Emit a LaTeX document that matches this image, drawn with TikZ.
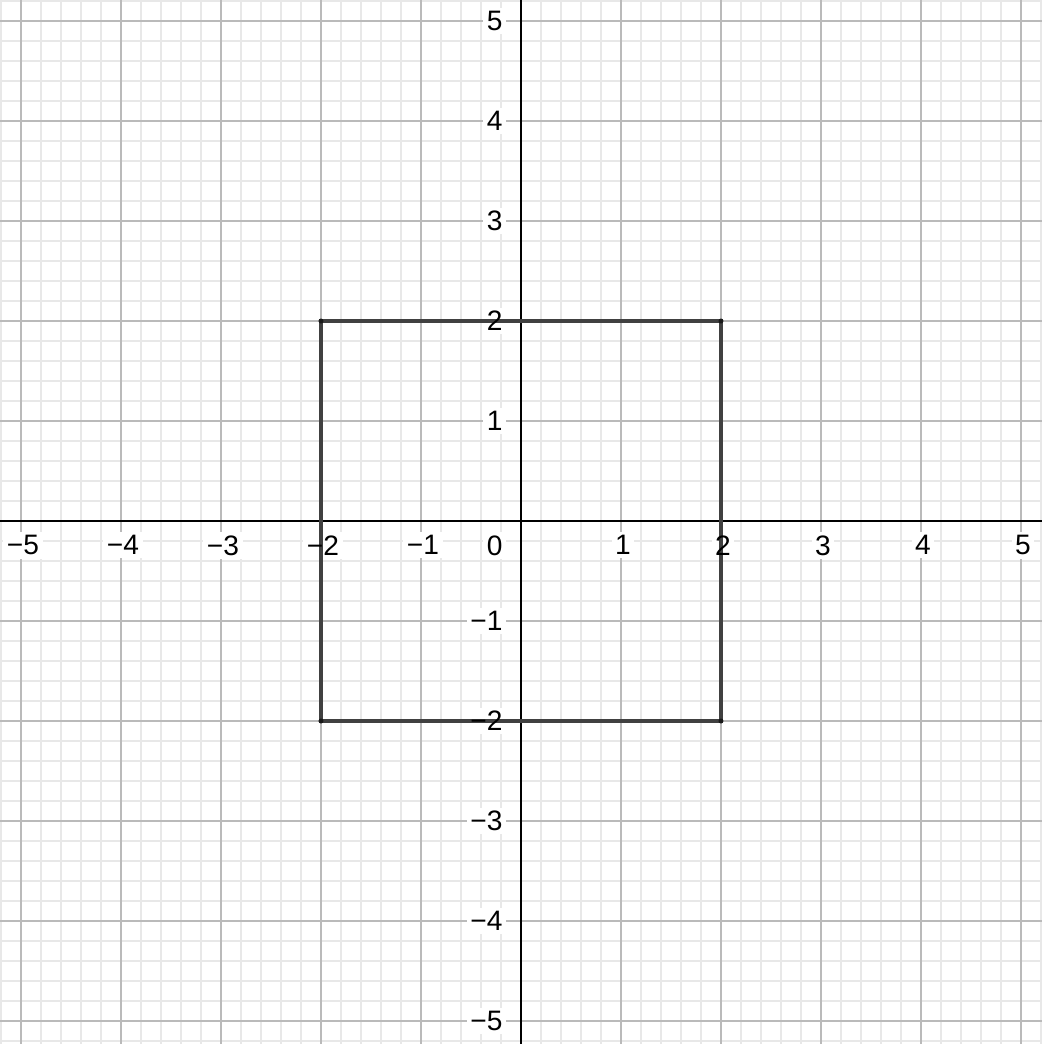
\documentclass[tikz,border=0pt]{standalone}
\usepackage{fontspec}
\setmainfont{Liberation Sans}
\usetikzlibrary{backgrounds}
\begin{document}
\begin{tikzpicture}[x=1cm,y=1cm,
  minorgrid/.style={draw=black!9,line width=0.4pt},
  majorgrid/.style={draw=black!27,line width=0.6pt},
  axisline/.style={draw=black,line width=0.75pt},
  sqline/.style={draw=black!75,line width=1.15pt},
  corner/.style={circle,fill=black!90,inner sep=0pt,minimum size=0.05cm},
  lab/.style={inner sep=0.8pt,font=\fontsize{8}{9}\selectfont}]
\useasboundingbox (-5.21,-5.23) rectangle (5.21,5.21);
\clip (-5.21,-5.23) rectangle (5.21,5.21);
% axes
\coordinate (xa) at (-5.3,0); \coordinate (xb) at (5.3,0);
\coordinate (ya) at (0,-5.3); \coordinate (yb) at (0,5.3);
\draw[axisline] (xa) -- (xb);
\draw[axisline] (ya) -- (yb);
% square
\coordinate (A) at (-2,2); \coordinate (B) at (2,2);
\coordinate (C) at (2,-2); \coordinate (D) at (-2,-2);
\draw[sqline] (A) -- (B) -- (C) -- (D) -- cycle;
\foreach \p in {A,B,C,D} \node[corner] at (\p) {};
% labels
\foreach \x/\t in {-5/−5,-4/−4,-3/−3,-2/−2,-1/−1,1/1,2/2,3/3,4/4,5/5}
  \node[lab,anchor=north] (xl\x) at (\x+0.02,-0.11) {\t};
\foreach \y/\t in {-5/−5,-4/−4,-3/−3,-2/−2,-1/−1,1/1,2/2,3/3,4/4,5/5}
  \node[lab,anchor=east] (yl\y) at (-0.15,\y) {\t};
\node[lab,anchor=north east] (o) at (-0.15,-0.11) {0};
% background: grid and label halos
\begin{scope}[on background layer]
\fill[white] (-5.21,-5.23) rectangle (5.21,5.21);
\draw[minorgrid] (-5.6,-5.6) grid[step=0.2] (5.6,5.6);
\draw[majorgrid] (-6,-6) grid[step=1] (6,6);
\foreach \n in {-5,-4,-3,-2,-1,1,2,3,4,5} {
  \fill[white] (xl\n.south west) rectangle (xl\n.north east);
  \fill[white] (yl\n.south west) rectangle (yl\n.north east);
}
\fill[white] (o.south west) rectangle (o.north east);
\end{scope}
\end{tikzpicture}
\end{document}
